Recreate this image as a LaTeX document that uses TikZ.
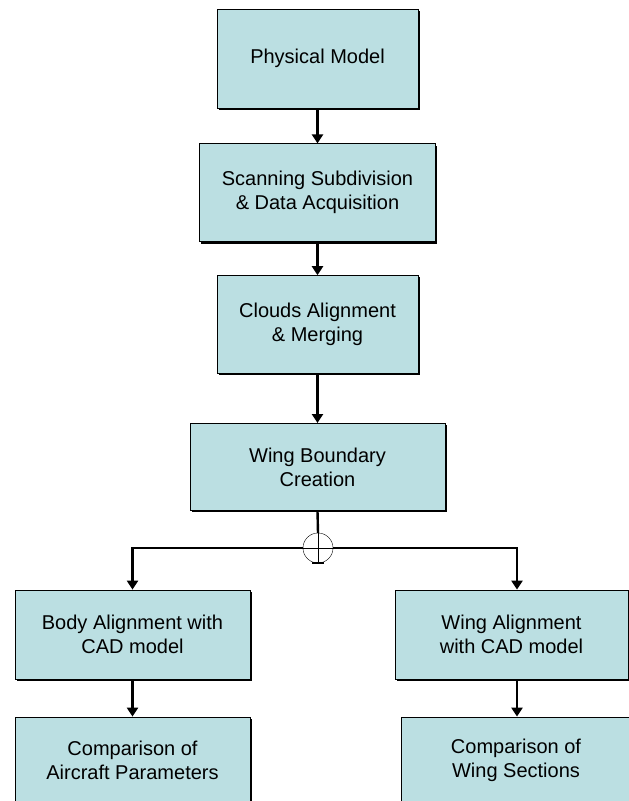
\documentclass[tikz,border=0pt]{standalone}
\usepackage{fontspec}
\setmainfont{Liberation Sans}
\usetikzlibrary{positioning,shadows,arrows.meta}
\definecolor{boxcyan}{RGB}{187,223,226}

\begin{document}
\begin{tikzpicture}[
    x=1pt, y=-1pt,
    node distance=35pt,
    block/.style={rectangle, draw, line width=0.8pt, fill=boxcyan, align=center,
        font=\fontsize{20}{24}\selectfont,
        drop shadow={shadow xshift=1.8pt, shadow yshift=-1.8pt, fill=black, opacity=1}},
    arrow/.style={-{Triangle[width=11pt,length=9pt]}, line width=2.4pt},
    link/.style={line width=2.4pt}
]
    \useasboundingbox (0,0) rectangle (629,801);

    % Nodes
    \node[block, minimum width=201pt, minimum height=99pt] (phys) at (317.5,58.5) {Physical Model};
    \node[block, minimum width=236pt, minimum height=98pt, below=35pt of phys] (scan) {Scanning Subdivision\\ \& Data Acquisition};
    \node[block, minimum width=201pt, minimum height=98pt, below=33pt of scan] (clouds) {Clouds Alignment\\ \& Merging};
    \node[block, minimum width=255pt, minimum height=87pt, below=49pt of clouds] (wbc) {Wing Boundary\\ Creation};
    \node[circle, draw, thin, fill=white, minimum size=30pt, inner sep=0pt] (junc) at (318,548) {};
    \node[block, minimum width=235pt, minimum height=89pt] (body) at (132.5,634.5) {Body Alignment with\\CAD model};
    \node[block, minimum width=233pt, minimum height=89pt] (wal) at (511.5,634.5) {Wing Alignment\\ with CAD model};
    \node[block, minimum width=235pt, minimum height=86pt] (cap) at (132.5,760) {Comparison of\\ Aircraft Parameters};
    \node[block, minimum width=230pt, minimum height=86pt] (cws) at (516,760) {Comparison of\\Wing Sections};

    % Arrows
    \draw[arrow] (phys.south) -- (scan.north);
    \draw[arrow] (scan.south) -- (clouds.north);
    \draw[arrow] (clouds.south) -- (wbc.north);
    \draw[link] (wbc.south) -- (junc.north);
    \draw[thin] (junc.north) -- (junc.south) (junc.west) -- (junc.east);
    \draw[line width=1.5pt] ([xshift=-6pt]junc.south) -- ([xshift=6pt]junc.south);
    \draw[arrow] (junc.west) -| (body.north);
    \draw[arrow] (junc.east) -| ([xshift=5.5pt]wal.north);
    \draw[arrow] (body.south) -- (cap.north);
    \draw[arrow] ([xshift=5.5pt]wal.south) -- ([xshift=5.5pt]wal.south |- cap.north);
\end{tikzpicture}
\end{document}
